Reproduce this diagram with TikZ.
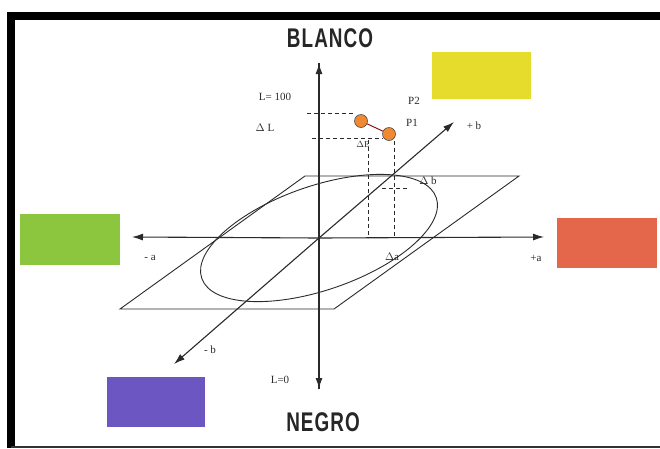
\documentclass[tikz,border=0pt]{standalone}
\usepackage{fontspec}
\setmainfont{Liberation Serif}
\newfontfamily\headfont{Liberation Sans}
\usetikzlibrary{arrows.meta}
\definecolor{cyel}{HTML}{E6DC2C}
\definecolor{cgrn}{HTML}{8CC63F}
\definecolor{cred}{HTML}{E5674B}
\definecolor{cpur}{HTML}{6B56C2}
\definecolor{cdot}{HTML}{F08A32}
\definecolor{lnc}{HTML}{2A2A2A}
\tikzset{
  axis/.style={draw=lnc, line width=1.1pt, -{Latex[length=11pt,width=7pt]}},
  thin line/.style={draw=lnc, line width=0.9pt},
  dash line/.style={draw=lnc, line width=1pt, dash pattern=on 4pt off 3pt},
  lbl/.style={font=\fontsize{11}{12}\selectfont, text=lnc, inner sep=0pt},
  head/.style={inner sep=0pt, text=black!85},
  pt/.style={circle, fill=cdot, draw=black!70, line width=0.6pt, minimum size=13pt, inner sep=0pt}
}
\newcommand{\headtxt}[1]{\scalebox{0.7}[1]{\headfont\bfseries\fontsize{27}{27}\selectfont #1}}
\begin{document}
\begin{tikzpicture}[x=1pt,y=-1pt]
\useasboundingbox (0,0) rectangle (660,448);
\clip (0,0) rectangle (660,448);
% frame
\draw[line width=8pt] (11,448) -- (11,16) -- (670,16);
\draw[line width=1.2pt, black!80] (11,447) -- (670,447);
% colour swatches
\fill[cyel] (432,52) rectangle (531,99);
\fill[cgrn] (20,214) rectangle (120,265);
\fill[cred] (557,218) rectangle (657,268);
\fill[cpur] (107,377) rectangle (205,427);
% coordinates
\coordinate (O) at (319,238);
\coordinate (Ltop) at (319,63);
\coordinate (Lbot) at (319,389);
\coordinate (aneg) at (132,237);
\coordinate (apos) at (544,237);
\coordinate (bneg) at (174,364);
\coordinate (bpos) at (454,122);
\coordinate (q1) at (120,309);
\coordinate (q2) at (334,309);
\coordinate (q3) at (519,176);
\coordinate (q4) at (305,176);
% plane
\draw[thin line] (q1) -- (q2) -- (q3) -- (q4) -- cycle;
\draw[thin line, rotate around={19:(O)}] (O) ellipse [x radius=124, y radius=52];
% axes
\draw[axis, line width=1.5pt] (Lbot) -- (Ltop);
\draw[axis, line width=1.5pt] (Ltop) -- (Lbot);
\draw[axis] (O) -- (apos);
\draw[axis] (O) -- (aneg);
\draw[axis] (O) -- (bpos);
\draw[axis] (O) -- (bneg);
% points
\node[pt] (P2) at (361,121) {};
\node[pt] (P1) at (389,134) {};
\draw[line width=0.9pt, draw=red!55!black] (P2) -- (P1);
% dashed guides
\coordinate (dL1) at (307,113);
\coordinate (dL2) at (312,138);
\coordinate (v1t) at (368,140);
\coordinate (v1b) at (368,238);
\coordinate (v2b) at (394,238);
\coordinate (db1) at (382,188);
\coordinate (db2) at (408,188);
\draw[dash line] (dL1) -- (P2.west |- dL1);
\draw[dash line] (dL2) -- (P1.west |- dL2);
\draw[dash line] (v1t) -- (v1b);
\draw[dash line] (P1.south -| v2b) -- (v2b);
\draw[dash line] (db1) -- (db2);
% labels
\node[head] (blanco) at (330,38) {\headtxt{B\kern1.5pt L\kern1.5pt A\kern1.5pt N\kern1.5pt C\kern1.5pt O}};
\node[head] (negro) at (323,422) {\headtxt{N\kern1.5pt E\kern1.5pt G\kern1.5pt R\kern1.5pt O}};
\node[lbl] (l100) at (275,97) {L= 100};
\node[lbl] (lL) at (265,128) {$\Delta$ L};
\node[lbl] (lP2) at (414,101) {P2};
\node[lbl] (lP1) at (412,123) {P1};
\node[lbl] (lE) at (363,144) {\fontsize{9}{9}\selectfont$\Delta$E};
\node[lbl] (lpb) at (474,126) {+ b};
\node[lbl] (ldb) at (428,181) {$\Delta$ b};
\node[lbl] (lda) at (392,257) {$\Delta$a};
\node[lbl] (lpa) at (536,258) {+a};
\node[lbl] (lna) at (150,258) {- a};
\node[lbl] (lnb) at (210,350) {- b};
\node[lbl] (l0) at (280,380) {L=0};
\end{tikzpicture}
\end{document}
